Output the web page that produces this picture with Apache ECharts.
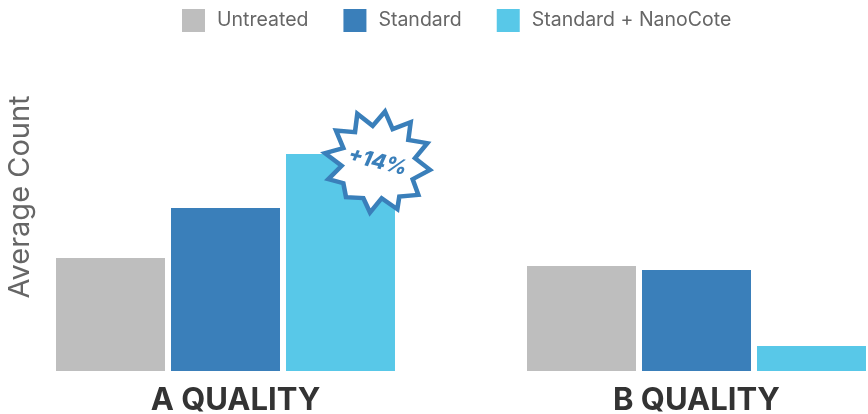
<!DOCTYPE html>
<html><head><meta charset="utf-8">
<style>html,body{margin:0;padding:0;background:#fff}#c{width:868px;height:414px}</style>
<script src="https://cdn.jsdelivr.net/npm/echarts@6/dist/echarts.min.js"></script>
</head><body><div id="c"></div>
<script>
const categories = ['A QUALITY', 'B QUALITY'];
const untreated = [113, 105];
const standard = [163, 101];
const nanoCote = [217, 25];
const seriesNames = ['Untreated', 'Standard', 'Standard + NanoCote'];
const colors = ['#BEBEBE', '#3A7FBA', '#58C8E8'];
const calloutText = '+14%';
const starPath = 'path://M255 65L278 118L332 97L325 150L382 160L345 205L390 240L338 268L355 315L298 320L292 358L245 325L210 368L190 325L138 322L130 280L85 268L125 228L75 190L130 175L108 122L165 127L172 72L218 108Z';
const font = 'Inter, sans-serif';
const chart = echarts.init(document.getElementById('c'));
const mk = (name, data, color, extra) => Object.assign({
  name, type: 'bar', data, barWidth: 109, barGap: '5.5%',
  itemStyle: { color }, silent: true
}, extra || {});
chart.setOption({
  animation: false,
  legend: {
    left: 182, top: 9, padding: 0, itemWidth: 23, itemHeight: 23, itemGap: 35,
    icon: 'rect', data: seriesNames,
    textStyle: { fontFamily: font, fontSize: 19.5, color: '#666', padding: [0, 0, 0, 7] }
  },
  grid: { left: -10, width: 942, top: 23, bottom: 43, containLabel: false, outerBoundsMode: 'none' },
  xAxis: {
    type: 'category',
    data: [
      { value: categories[0], textStyle: { padding: [0, 0, 0, 20] } },
      { value: categories[1] }
    ],
    axisLine: { show: false }, axisTick: { show: false },
    axisLabel: { fontFamily: font, fontSize: 31, fontWeight: 'bold', color: '#333', margin: 14 }
  },
  yAxis: {
    type: 'value', min: 0, max: 348,
    name: 'Average Count', nameLocation: 'middle', nameGap: -45,
    nameTextStyle: { fontFamily: font, fontSize: 29, color: '#666' },
    axisLine: { show: false }, axisTick: { show: false },
    axisLabel: { show: false }, splitLine: { show: false }
  },
  series: [
    mk(seriesNames[0], untreated, colors[0]),
    mk(seriesNames[1], standard, colors[1]),
    mk(seriesNames[2], nanoCote, colors[2], {
      markPoint: {
        silent: true,
        data: [{
          coord: [categories[0], nanoCote[0]],
          symbol: starPath, symbolSize: [105, 101], symbolKeepAspect: false,
          symbolOffset: [37, 8],
          itemStyle: { color: '#fff', borderColor: colors[1], borderWidth: 4.5 },
          label: {
            show: true, position: 'inside', formatter: calloutText, rotate: -14,
            fontFamily: font, fontSize: 21, fontWeight: 800, fontStyle: 'italic', color: colors[1]
          }
        }]
      }
    })
  ]
});
</script></body></html>
